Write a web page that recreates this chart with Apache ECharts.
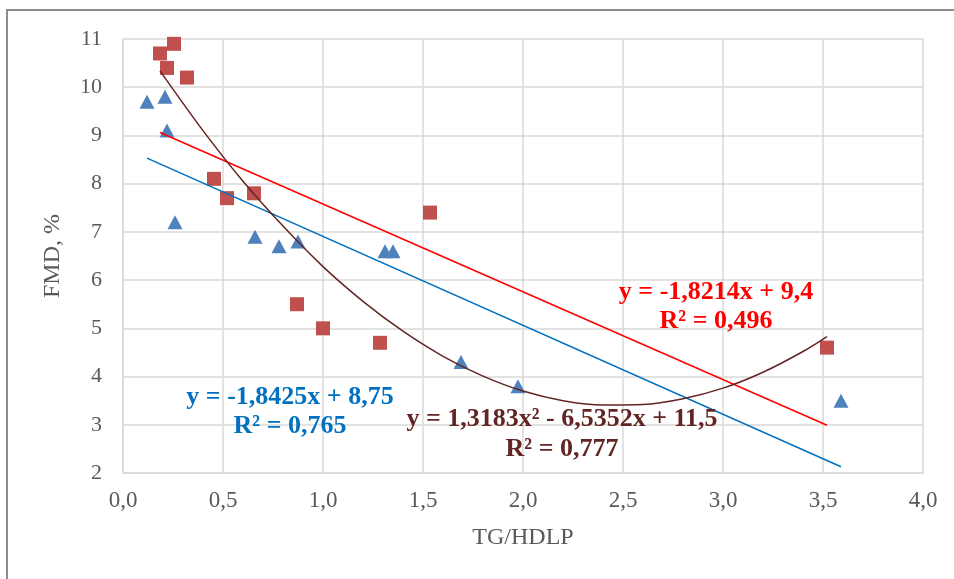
<!DOCTYPE html>
<html>
<head>
<meta charset="utf-8">
<script src="https://cdn.jsdelivr.net/npm/echarts@6/dist/echarts.min.js"></script>
<style>
html,body{margin:0;padding:0;background:#fff;}
#chart{width:954px;height:579px;}
</style>
</head>
<body>
<div id="chart"></div>
<script>
// blue triangles
var blueX = [0.12, 0.21, 0.22, 0.26, 0.66, 0.78, 0.875, 1.31, 1.35, 1.69, 1.975, 3.59];
var blueY = [9.7, 9.8, 9.1, 7.2, 6.9, 6.7, 6.8, 6.6, 6.6, 4.3, 3.8, 3.5];
// red squares
var redX = [0.185, 0.255, 0.22, 0.32, 0.455, 0.52, 0.655, 0.87, 1.0, 1.285, 1.535, 3.52];
var redY = [10.7, 10.9, 10.4, 10.2, 8.1, 7.7, 7.8, 5.5, 5.0, 4.7, 7.4, 4.6];
// trend lines
var blueTrendX = [0.12, 3.59];
var blueTrendY = [8.53, 2.13];
var redTrendX = [0.185, 3.52];
var redTrendY = [9.06, 2.99];
var polyX = [0.185, 0.4, 0.6, 0.8, 1.0, 1.2, 1.4, 1.6, 1.8, 2.0, 2.2, 2.4, 2.6, 2.8, 3.0, 3.2, 3.4, 3.52];
var polyY = [10.34, 9.10, 8.05, 7.12, 6.28, 5.56, 4.94, 4.42, 4.01, 3.70, 3.50, 3.41, 3.42, 3.54, 3.76, 4.09, 4.52, 4.83];

var xTicks = ['0,0','0,5','1,0','1,5','2,0','2,5','3,0','3,5','4,0'];

function pairs(xs, ys){
  var out = [];
  for (var i = 0; i < xs.length; i++) out.push([xs[i], ys[i]]);
  return out;
}

var font = '"Liberation Serif", "Times New Roman", serif';
var chart = echarts.init(document.getElementById('chart'));

chart.setOption({
  animation: false,
  textStyle: {fontFamily: font},
  grid: {left: 123, right: 31, top: 39, bottom: 106},
  xAxis: {
    type: 'value', min: 0, max: 4, interval: 0.5,
    name: 'TG/HDLP', nameLocation: 'middle', nameGap: 53,
    nameTextStyle: {fontFamily: font, fontSize: 24, color: '#595959'},
    axisLine: {show: true, lineStyle: {color: '#D9D9D9', width: 1.5}},
    axisTick: {show: false},
    axisLabel: {
      fontFamily: font, fontSize: 23, color: '#595959', margin: 16,
      formatter: function(v){ return xTicks[Math.round(v / 0.5)]; }
    },
    splitLine: {show: true, lineStyle: {color: '#D9D9D9', width: 1.5}}
  },
  yAxis: {
    type: 'value', min: 2, max: 11, interval: 1,
    name: 'FMD, %', nameLocation: 'middle', nameGap: 58, nameRotate: 90,
    nameTextStyle: {fontFamily: font, fontSize: 24, color: '#595959'},
    axisLine: {show: true, lineStyle: {color: '#D9D9D9', width: 1.5}},
    axisTick: {show: false},
    axisLabel: {fontFamily: font, fontSize: 22, color: '#595959', margin: 21},
    splitLine: {show: true, lineStyle: {color: '#D9D9D9', width: 1.5}}
  },
  series: [
    {
      type: 'scatter', symbol: 'triangle', symbolSize: [15, 14],
      itemStyle: {color: '#4F81BD', opacity: 1},
      data: pairs(blueX, blueY), z: 2
    },
    {
      type: 'scatter', symbol: 'rect', symbolSize: 14,
      itemStyle: {color: '#C0504D', opacity: 1},
      data: pairs(redX, redY), z: 2
    },
    {
      type: 'line', showSymbol: false, symbol: 'none',
      lineStyle: {color: '#0070C0', width: 1.5},
      data: pairs(blueTrendX, blueTrendY), z: 3
    },
    {
      type: 'line', showSymbol: false, symbol: 'none',
      lineStyle: {color: '#FF0000', width: 1.5},
      data: pairs(redTrendX, redTrendY), z: 3
    },
    {
      type: 'line', showSymbol: false, symbol: 'none', smooth: 0.3,
      lineStyle: {color: '#632523', width: 1.5},
      data: pairs(polyX, polyY), z: 3
    }
  ],
  graphic: [
    {
      type: 'rect', silent: true, z: -1,
      shape: {x: 7, y: 10, width: 1200, height: 1000},
      style: {fill: 'none', stroke: '#8C8C8C', lineWidth: 2}
    },
    {
      type: 'text', x: 716, y: 307, z: 10,
      style: {
        text: 'y = -1,8214x + 9,4\nR² = 0,496',
        fill: '#FF0000', font: 'bold 26px ' + font,
        align: 'center', verticalAlign: 'middle', lineHeight: 29
      }
    },
    {
      type: 'text', x: 290, y: 412, z: 10,
      style: {
        text: 'y = -1,8425x + 8,75\nR² = 0,765',
        fill: '#0070C0', font: 'bold 26px ' + font,
        align: 'center', verticalAlign: 'middle', lineHeight: 29
      }
    },
    {
      type: 'text', x: 562, y: 434, z: 10,
      style: {
        text: 'y = 1,3183x² - 6,5352x + 11,5\nR² = 0,777',
        fill: '#632523', font: 'bold 26px ' + font,
        align: 'center', verticalAlign: 'middle', lineHeight: 30
      }
    }
  ]
});
</script>
</body>
</html>
